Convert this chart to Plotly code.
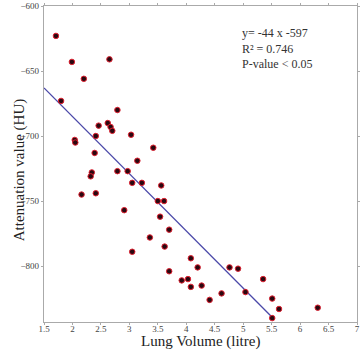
import plotly.graph_objects as go

lung_volume = [1.71, 1.99, 2.20, 2.65, 1.80, 2.79, 2.04, 2.05, 2.46, 2.41,
               2.62, 2.67, 2.70, 3.03, 3.42, 2.39, 3.14, 2.79, 2.97, 2.34,
               2.32, 2.16, 2.41, 3.05, 3.22, 3.56, 2.91, 3.50, 3.61, 3.54,
               3.70, 3.36, 3.05, 3.62, 3.70, 3.92, 4.03, 4.08, 4.20, 4.08,
               4.27, 4.41, 4.62, 4.76, 4.91, 5.04, 5.35, 5.51, 5.63, 5.51,
               6.31]
attenuation = [-623, -643, -656, -641, -673, -680, -703, -705, -692, -700,
               -690, -693, -696, -699, -709, -713, -719, -727, -727, -728,
               -731, -745, -744, -736, -736, -738, -757, -750, -750, -762,
               -772, -778, -789, -785, -804, -811, -810, -794, -801, -816,
               -815, -826, -821, -801, -802, -820, -810, -825, -833, -840,
               -832]

slope = -44
intercept = -597
fit_x = [1.5, 5.5]
fit_y = [slope * v + intercept for v in fit_x]

x_ticks = [1.5, 2, 2.5, 3, 3.5, 4, 4.5, 5, 5.5, 6, 6.5, 7]
y_ticks = [-800, -750, -700, -650, -600]

serif = "Liberation Serif"

W, H = 361, 354
ML, MR, MT, MB = 44, 1, 6, 32
plot_w = W - ML - MR
plot_h = H - MT - MB


def px_x(p):
    return (p - ML) / plot_w


def px_y(p):
    return 1 - (p - MT) / plot_h


fig = go.Figure()
fig.add_trace(go.Scatter(
    x=fit_x, y=fit_y, mode="lines",
    line=dict(color="#4a48a8", width=1.3),
    hoverinfo="skip", showlegend=False))
fig.add_trace(go.Scatter(
    x=lung_volume, y=attenuation, mode="markers",
    marker=dict(size=5.5, color="#2a0810", line=dict(color="#e02030", width=1)),
    showlegend=False))

fig.add_annotation(
    x=px_x(242), y=px_y(24), xref="paper", yref="paper", showarrow=False,
    text="y= -44 x -597<br>R² = 0.746<br>P-value &lt; 0.05",
    align="left", xanchor="left", yanchor="top",
    font=dict(family=serif, size=12, color="#333333"))

fig.add_annotation(
    x=px_x(202), y=px_y(342), xref="paper", yref="paper", showarrow=False,
    text="Lung Volume (litre)", xanchor="center", yanchor="middle",
    font=dict(family=serif, size=15, color="#222222"))

fig.add_annotation(
    x=px_x(19), y=px_y(170), xref="paper", yref="paper", showarrow=False,
    text="Attenuation value (HU)", textangle=-90,
    xanchor="center", yanchor="middle",
    font=dict(family=serif, size=15, color="#222222"))

axis_common = dict(
    showgrid=False, zeroline=False, showline=True, linecolor="#aaaaaa",
    linewidth=1.2, mirror="ticks", ticks="outside", ticklen=2,
    tickcolor="#aaaaaa", tickfont=dict(family=serif, size=9, color="#444444"))

fig.update_layout(
    width=W, height=H,
    margin=dict(l=ML, r=MR, t=MT, b=MB),
    paper_bgcolor="white", plot_bgcolor="white",
    xaxis=dict(range=[1.5, 7], tickvals=x_ticks,
               ticktext=[("%g" % v) for v in x_ticks],
               ticklabelstandoff=-4,
               **axis_common),
    yaxis=dict(range=[-843, -600], tickvals=y_ticks,
               **axis_common),
)

fig.write_html(
    "out.html",
    config={"displayModeBar": False},
    post_script="document.body.style.margin='0';document.body.style.overflow='hidden';")
